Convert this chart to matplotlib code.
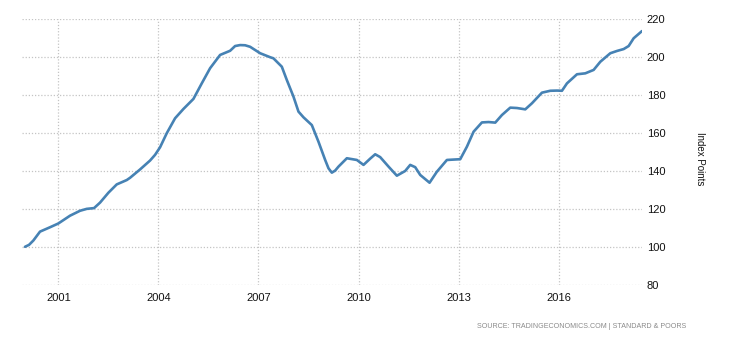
import matplotlib
matplotlib.use("Agg")
import matplotlib.pyplot as plt

# Decimal year and index values
years = [2000.0, 2000.12, 2000.25, 2000.45, 2000.75, 2001.0, 2001.35, 2001.65, 2001.85,
         2002.07, 2002.25, 2002.5, 2002.75, 2003.05, 2003.15, 2003.45, 2003.75,
         2003.9, 2004.05, 2004.25, 2004.5, 2004.75, 2005.05, 2005.3, 2005.55, 2005.85,
         2006.15, 2006.3, 2006.45, 2006.6, 2006.75, 2007.05, 2007.35, 2007.45, 2007.7, 2007.85,
         2008.05, 2008.2, 2008.35, 2008.6, 2008.8, 2009.0, 2009.1, 2009.2, 2009.3, 2009.4,
         2009.65, 2009.95, 2010.15, 2010.35, 2010.5, 2010.65, 2010.9, 2011.15, 2011.4, 2011.55,
         2011.7, 2011.85, 2012.13, 2012.35, 2012.65, 2012.85, 2013.05, 2013.25, 2013.45, 2013.7,
         2013.9, 2014.1, 2014.3, 2014.55, 2014.75, 2015.0, 2015.2, 2015.5, 2015.75, 2015.95,
         2016.1, 2016.25, 2016.55, 2016.8, 2017.05, 2017.25, 2017.55, 2017.75, 2017.95,
         2018.1, 2018.25, 2018.5]
values = [100.0, 101.0, 103.3, 108.0, 110.3, 112.3, 116.4, 119.0, 120.0,
          120.4, 123.3, 128.5, 132.9, 135.2, 136.4, 140.8, 145.5,
          148.5, 152.5, 159.9, 167.8, 172.7, 178.0, 186.2, 194.2, 201.2,
          203.4, 205.9, 206.4, 206.3, 205.5, 202.1, 200.0, 199.4, 195.0, 188.0,
          179.2, 171.3, 168.3, 164.2, 155.4, 145.8, 141.4, 139.1, 140.2, 142.3,
          146.7, 145.8, 143.2, 146.5, 148.8, 147.3, 142.3, 137.5, 140.0, 143.2,
          142.0, 137.9, 133.8, 139.6, 145.8, 146.0, 146.2, 152.8, 160.7, 165.6,
          165.8, 165.5, 169.5, 173.4, 173.2, 172.5, 175.7, 181.3, 182.3, 182.4,
          182.3, 186.2, 191.0, 191.5, 193.3, 197.6, 202.1, 203.3, 204.3,
          205.9, 210.0, 213.8]

x_ticks = [2001, 2004, 2007, 2010, 2013, 2016]
y_ticks = [80, 100, 120, 140, 160, 180, 200, 220]

plt.rcParams['font.family'] = ['Liberation Sans', 'DejaVu Sans']

W, H = 730, 340
fig = plt.figure(figsize=(W / 100, H / 100), dpi=100)
left, right, top, bottom = 22, 642, 19.3, 284.7
ax = fig.add_axes([left / W, 1 - bottom / H, (right - left) / W, (bottom - top) / H])

ax.plot(years, values, color='#4682b4', lw=1.9, solid_joinstyle='round',
        solid_capstyle='round', zorder=3)

ax.set_xlim(1999.91, 2018.5)
ax.set_ylim(80, 220)
ax.set_xticks(x_ticks)
ax.set_xticklabels([str(t) for t in x_ticks])
ax.set_yticks(y_ticks)
ax.yaxis.tick_right()
ax.tick_params(axis='both', length=0, labelsize=8, labelcolor='#111111')
ax.tick_params(axis='y', pad=3.5)
ax.tick_params(axis='x', pad=6)

for s in ax.spines.values():
    s.set_visible(False)

ax.grid(True, color='#c4c4c4', linestyle=(0, (1, 1.5)), linewidth=0.9)
ax.set_axisbelow(True)

fig.text(700 / W, 1 - 159 / H, 'Index Points', rotation=270, fontsize=7,
         ha='center', va='center', color='#111111')
fig.text(686 / W, 1 - 326 / H, 'SOURCE: TRADINGECONOMICS.COM | STANDARD & POORS',
         fontsize=5.15, ha='right', va='center', color='#8a8a8a')

fig.savefig('out.png', dpi=100)
